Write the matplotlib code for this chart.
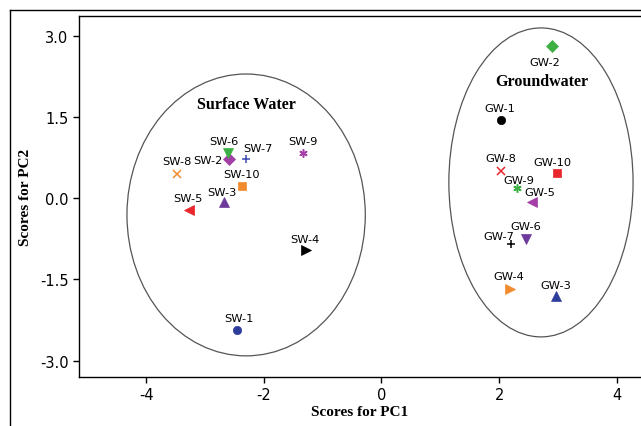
import matplotlib.pyplot as plt
from matplotlib.patches import Ellipse
from matplotlib.lines import Line2D

plt.rcParams["axes.unicode_minus"] = False

# sample names and PCA scores
sw_names = ["SW-1", "SW-2", "SW-3", "SW-4", "SW-5", "SW-6", "SW-7", "SW-8", "SW-9", "SW-10"]
sw_pc1 = [-2.45, -2.59, -2.68, -1.29, -3.27, -2.61, -2.30, -3.48, -1.33, -2.37]
sw_pc2 = [-2.44, 0.72, -0.07, -0.96, -0.22, 0.83, 0.73, 0.44, 0.84, 0.23]

gw_names = ["GW-1", "GW-2", "GW-3", "GW-4", "GW-5", "GW-6", "GW-7", "GW-8", "GW-9", "GW-10"]
gw_pc1 = [2.03, 2.90, 2.96, 2.19, 2.56, 2.45, 2.20, 2.03, 2.30, 2.99]
gw_pc2 = [1.44, 2.80, -1.80, -1.68, -0.07, -0.76, -0.85, 0.50, 0.18, 0.46]

# marker styles per sample number (1..10)
BLUE = "#2e3d9c"
VIOLET = "#6d3a9c"
MAGENTA = "#a23ea6"
GREEN = "#3cb043"
ORANGE = "#f28a2e"
RED = "#e8262b"
ASTER = (6, 2, 0)

sw_styles = [("o", BLUE), ("D", MAGENTA), ("^", VIOLET), (">", "black"), ("<", RED),
             ("v", GREEN), ("+", "#3c4ab0"), ("x", ORANGE), (ASTER, MAGENTA), ("s", ORANGE)]
gw_styles = [("o", "black"), ("D", GREEN), ("^", BLUE), (">", ORANGE), ("<", MAGENTA),
             ("v", VIOLET), ("+", "black"), ("x", RED), (ASTER, GREEN), ("s", RED)]

# label offsets in pixels (dx right, dy down) from the marker to the label centre
sw_offsets = [(2, -12), (-21, 1), (-2, -10), (-1, -11), (-1, -12),
              (-4, -12), (12, -11), (0, -13), (0, -12), (0, -12)]
gw_offsets = [(-1, -12), (-7, 16), (0, -11), (-2, -13), (8, -10),
              (0, -13), (-12, -8), (0, -13), (2, -8), (-5, -11)]

W, H = 641, 427
fig = plt.figure(figsize=(W / 100, H / 100), dpi=100)
ax = fig.add_axes([79 / W, 1 - 378 / H, (W - 79) / W, (378 - 17) / H])

ax.set_xlim(-5.14, 4.41)
ax.set_ylim(-3.30, 3.36)

# outer frame (figure border, cut off at right and bottom)
fig.add_artist(Line2D([10 / W, 10 / W], [-0.1, 1 - 11 / H], transform=fig.transFigure,
                      color="black", lw=1.0))
fig.add_artist(Line2D([10 / W, 1.1], [1 - 11 / H, 1 - 11 / H], transform=fig.transFigure,
                      color="black", lw=1.0))

ax.add_patch(Ellipse((-2.30, -0.31), 4.05, 5.20, fill=False, ec="#555555", lw=0.9))
ax.add_patch(Ellipse((2.71, 0.29), 3.13, 5.70, fill=False, ec="#555555", lw=0.9))


def draw_group(xs, ys, names, styles, offsets):
    for x, y, name, (mk, col), (dx, dy) in zip(xs, ys, names, styles, offsets):
        thin = mk in ("+", "x", ASTER)
        ax.plot([x], [y], marker=mk, color=col, ms=7 if mk in ("^", "v", "<", ">") else 6,
                mew=1.1 if thin else 0.5, linestyle="none")
        ax.annotate(name, (x, y), xytext=(dx * 0.72, -dy * 0.72),
                    textcoords="offset points", ha="center", va="center", fontsize=8.2,
                    family="DejaVu Sans")


draw_group(sw_pc1, sw_pc2, sw_names, sw_styles, sw_offsets)
draw_group(gw_pc1, gw_pc2, gw_names, gw_styles, gw_offsets)

ax.text(-2.30, 1.73, "Surface Water", ha="center", va="center", fontsize=11.5,
        fontweight="bold", family="Liberation Serif")
ax.text(2.72, 2.16, "Groundwater", ha="center", va="center", fontsize=11.5,
        fontweight="bold", family="Liberation Serif")

ax.set_xticks([-4, -2, 0, 2, 4])
ax.set_yticks([-3.0, -1.5, 0.0, 1.5, 3.0])
ax.set_yticklabels(["-3.0", "-1.5", "0.0", "1.5", "3.0"])
ax.tick_params(direction="out", length=4, width=1, labelsize=10.5)
for side in ("left", "bottom", "top"):
    ax.spines[side].set_linewidth(1.0)
ax.spines["right"].set_visible(False)

ax.set_xlabel("Scores for PC1", fontsize=11, fontweight="bold", family="Liberation Serif",
              labelpad=2)
ax.set_ylabel("Scores for PC2", fontsize=11, fontweight="bold", family="Liberation Serif",
              labelpad=6)

fig.savefig("out.png", dpi=100)
